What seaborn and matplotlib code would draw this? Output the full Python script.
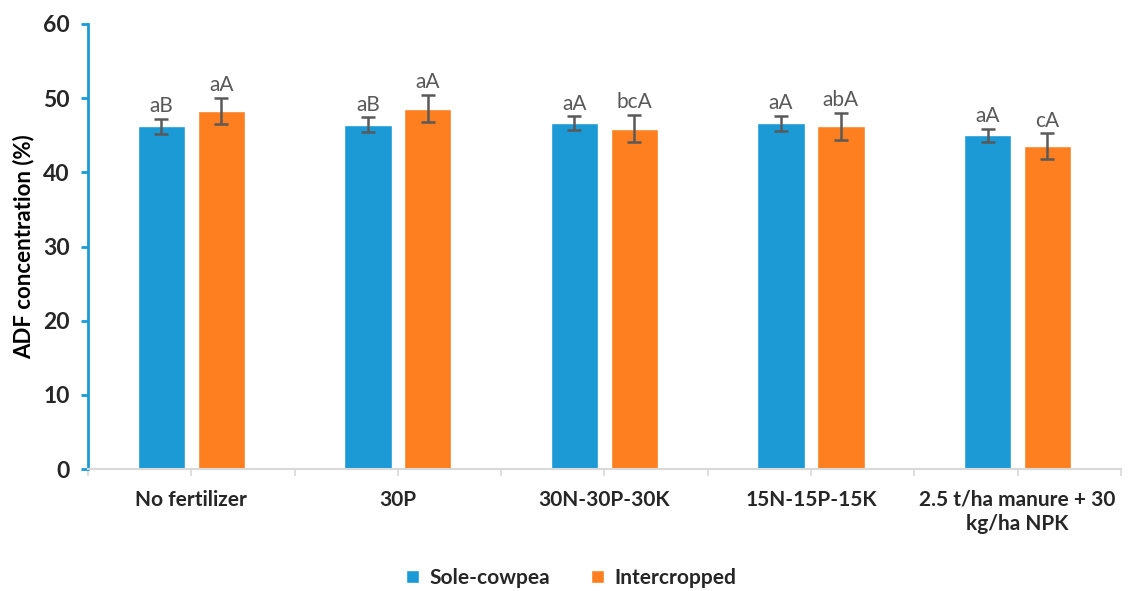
import matplotlib
matplotlib.use("Agg")
import matplotlib.pyplot as plt
from matplotlib.patches import Patch
from matplotlib.ticker import FixedLocator
import seaborn as sns
import pandas as pd
import numpy as np

# Treatments and measured ADF concentration (%)
treatments = ["No fertilizer", "30P", "30N-30P-30K", "15N-15P-15K",
              "2.5 t/ha manure + 30\nkg/ha NPK"]
systems = ["Sole-cowpea", "Intercropped"]
sole_mean = [46.2, 46.4, 46.6, 46.6, 45.0]
inter_mean = [48.3, 48.6, 45.9, 46.2, 43.5]
sole_err = [1.0, 1.0, 0.95, 1.05, 0.9]
inter_err = [1.75, 1.8, 1.8, 1.8, 1.75]
sole_letters = ["aB", "aB", "aA", "aA", "aA"]
inter_letters = ["aA", "aA", "bcA", "abA", "cA"]

BLUE = "#1b9ad6"
ORANGE = "#fe7f1f"
GREY = "#595959"

df = pd.DataFrame({
    "Treatment": treatments * 2,
    "System": [systems[0]] * len(treatments) + [systems[1]] * len(treatments),
    "ADF": sole_mean + inter_mean,
})

sns.set_theme(style="white")
plt.rcParams["font.family"] = ["Lato", "DejaVu Sans"]

fig = plt.figure(figsize=(11.31, 5.91), dpi=100)
ax = fig.add_axes([0.0778, 0.2064, 0.9132, 0.7530])

sns.barplot(data=df, x="Treatment", y="ADF", hue="System",
            order=treatments, hue_order=systems,
            palette=[BLUE, ORANGE], saturation=1, width=0.58, gap=0.21,
            errorbar=None, legend=False, ax=ax)

# error bars and significance letters on top of each bar
series = [(sole_mean, sole_err, sole_letters), (inter_mean, inter_err, inter_letters)]
for container, (means, errs, letters) in zip(ax.containers, series):
    xs = [p.get_x() + p.get_width() / 2 for p in container.patches]
    ax.errorbar(xs, means, yerr=errs, fmt="none", ecolor=GREY,
                elinewidth=1.8, capsize=5, capthick=1.8, zorder=5)
    for x, m, e, lab in zip(xs, means, errs, letters):
        ax.annotate(lab, (x, m + e), xytext=(0, 2), textcoords="offset points",
                    ha="center", va="bottom", fontsize=15, color=GREY)

ax.set_ylim(0, 60)
ax.set_xlim(-0.5, len(treatments) - 0.5)
ax.set_yticks(np.arange(0, 61, 10))
ax.set_ylabel("ADF concentration (%)", fontsize=16, fontweight="bold",
              color="black", labelpad=6)
ax.set_xlabel("")

for side in ["top", "right"]:
    ax.spines[side].set_visible(False)
ax.spines["left"].set_color(BLUE)
ax.spines["left"].set_linewidth(2)
ax.spines["bottom"].set_color("#d9d9d9")
ax.spines["bottom"].set_linewidth(1.5)

ax.tick_params(axis="y", which="major", direction="out", length=5, width=2,
               color=BLUE, labelsize=16.5, left=True, pad=8)
for t in ax.get_yticklabels():
    t.set_fontweight("bold")

ax.xaxis.set_minor_locator(FixedLocator(np.arange(-0.5, len(treatments), 1.0)))
ax.tick_params(axis="x", which="both", direction="out", length=5, width=1.2,
               color="#d9d9d9", bottom=True, labelsize=15, pad=10)
for t in ax.get_xticklabels():
    t.set_fontweight("bold")
    t.set_linespacing(1.25)

handles = [Patch(facecolor=BLUE, label=systems[0]),
           Patch(facecolor=ORANGE, label=systems[1])]
fig.legend(handles=handles, loc="center", bbox_to_anchor=(0.505, 0.022),
           ncol=2, frameon=False, handlelength=0.6, handleheight=0.6,
           handletextpad=0.5, columnspacing=2.0,
           prop={"size": 15, "weight": "bold"})

fig.savefig("out.png", dpi=100, facecolor="white")
